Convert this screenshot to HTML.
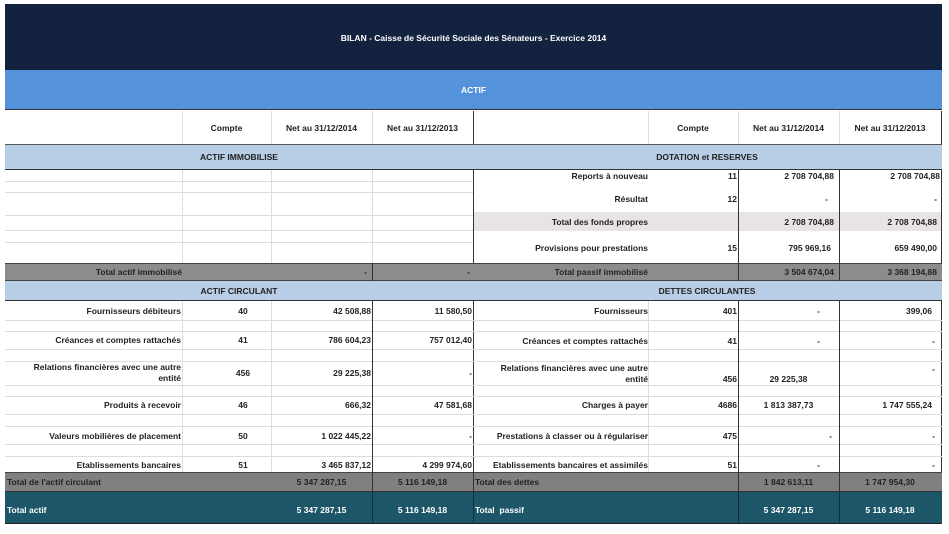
<!DOCTYPE html>
<html><head><meta charset="utf-8"><style>
body{margin:0;width:949px;height:534px;background:#fff;position:relative;overflow:hidden;font-family:"Liberation Sans",Arial,sans-serif;font-size:8.5px;font-weight:bold;color:#222}
div{position:absolute;box-sizing:border-box}
.t{white-space:nowrap;line-height:10px}
.r{text-align:right}.c{text-align:center}
.vl{width:1px;background:#ddd}
.vd{width:1px;background:#333}
.hl{height:1px;background:#ddd}
</style></head><body>
<div style="left:5px;top:4px;width:937px;height:66px;background:#13223f"></div>
<div class="t c" style="left:5px;top:33px;width:937px;color:#fff">BILAN - Caisse de Sécurité Sociale des Sénateurs - Exercice 2014</div>
<div style="left:5px;top:70px;width:937px;height:40px;background:#5592dc;border-bottom:1px solid #333"></div>
<div class="t c" style="left:5px;top:85px;width:937px;color:#fff">ACTIF</div>

<!-- column header row -->
<div class="vl" style="left:182px;top:111px;height:34px"></div>
<div class="vl" style="left:271px;top:111px;height:34px"></div>
<div class="vl" style="left:372px;top:111px;height:34px"></div>
<div class="vd" style="left:473px;top:111px;height:413px"></div>
<div class="vl" style="left:648px;top:111px;height:34px"></div>
<div class="vl" style="left:738px;top:111px;height:34px"></div>
<div class="vl" style="left:839px;top:111px;height:34px"></div>
<div class="vd" style="left:941px;top:111px;height:413px"></div>
<div class="t c" style="left:182px;top:123px;width:89px">Compte</div>
<div class="t c" style="left:271px;top:123px;width:101px">Net au 31/12/2014</div>
<div class="t c" style="left:372px;top:123px;width:101px">Net au 31/12/2013</div>
<div class="t c" style="left:648px;top:123px;width:90px">Compte</div>
<div class="t c" style="left:738px;top:123px;width:101px">Net au 31/12/2014</div>
<div class="t c" style="left:839px;top:123px;width:102px">Net au 31/12/2013</div>

<!-- section headers -->
<div style="left:5px;top:144px;width:937px;height:26px;background:#b8cde6;border-top:1px solid #555;border-bottom:1px solid #333"></div>
<div class="t c" style="left:5px;top:152px;width:468px">ACTIF IMMOBILISE</div>
<div class="t c" style="left:473px;top:152px;width:468px">DOTATION et RESERVES</div>

<!-- left immobilise grid -->
<div class="hl" style="left:5px;top:181px;width:468px"></div>
<div class="hl" style="left:5px;top:192px;width:468px"></div>
<div class="hl" style="left:5px;top:215px;width:468px"></div>
<div class="hl" style="left:5px;top:230px;width:468px"></div>
<div class="hl" style="left:5px;top:242px;width:468px"></div>
<div class="vl" style="left:182px;top:170px;height:93px"></div>
<div class="vl" style="left:271px;top:170px;height:93px"></div>
<div class="vl" style="left:372px;top:170px;height:93px"></div>

<!-- right dotation -->
<div style="left:474px;top:212px;width:467px;height:19px;background:#e8e4e6"></div>
<div class="vd" style="left:738px;top:170px;height:93px"></div>
<div class="vd" style="left:839px;top:170px;height:93px"></div>
<div class="t r" style="left:474px;top:171px;width:174px">Reports à nouveau</div>
<div class="t r" style="left:648px;top:171px;width:89px">11</div>
<div class="t r" style="left:738px;top:171px;width:96px">2 708 704,88</div>
<div class="t r" style="left:839px;top:171px;width:101px">2 708 704,88</div>
<div class="t r" style="left:474px;top:194px;width:174px">Résultat</div>
<div class="t r" style="left:648px;top:194px;width:89px">12</div>
<div class="t r" style="left:738px;top:194px;width:90px">-</div>
<div class="t r" style="left:839px;top:194px;width:98px">-</div>
<div class="t r" style="left:474px;top:217px;width:174px">Total des fonds propres</div>
<div class="t r" style="left:738px;top:217px;width:96px">2 708 704,88</div>
<div class="t r" style="left:839px;top:217px;width:98px">2 708 704,88</div>
<div class="t r" style="left:474px;top:243px;width:174px">Provisions pour prestations</div>
<div class="t r" style="left:648px;top:243px;width:89px">15</div>
<div class="t r" style="left:738px;top:243px;width:93px">795 969,16</div>
<div class="t r" style="left:839px;top:243px;width:98px">659 490,00</div>

<!-- total immobilise row -->
<div style="left:5px;top:263px;width:937px;height:18px;background:#8c8c8c;border-top:1px solid #444;border-bottom:1px solid #444"></div>
<div class="vd" style="left:372px;top:263px;height:18px"></div>
<div class="vd" style="left:738px;top:263px;height:18px"></div>
<div class="vd" style="left:839px;top:263px;height:18px"></div>
<div class="t r" style="left:5px;top:267px;width:177px">Total actif immobilisé</div>
<div class="t r" style="left:271px;top:267px;width:96px">-</div>
<div class="t r" style="left:372px;top:267px;width:98px">-</div>
<div class="t r" style="left:474px;top:267px;width:174px">Total passif immobilisé</div>
<div class="t r" style="left:738px;top:267px;width:96px">3 504 674,04</div>
<div class="t r" style="left:839px;top:267px;width:98px">3 368 194,88</div>

<!-- circulant header -->
<div style="left:5px;top:281px;width:937px;height:20px;background:#b8cde6;border-bottom:1px solid #333"></div>
<div class="t c" style="left:5px;top:286px;width:468px">ACTIF CIRCULANT</div>
<div class="t c" style="left:473px;top:286px;width:468px">DETTES CIRCULANTES</div>

<!-- circulant grid lines -->
<div class="hl" style="left:5px;top:320px;width:937px"></div>
<div class="hl" style="left:5px;top:331px;width:937px"></div>
<div class="hl" style="left:5px;top:349px;width:937px"></div>
<div class="hl" style="left:5px;top:361px;width:937px"></div>
<div class="hl" style="left:5px;top:385px;width:937px"></div>
<div class="hl" style="left:5px;top:396px;width:937px"></div>
<div class="hl" style="left:5px;top:414px;width:937px"></div>
<div class="hl" style="left:5px;top:426px;width:937px"></div>
<div class="hl" style="left:5px;top:444px;width:937px"></div>
<div class="hl" style="left:5px;top:456px;width:937px"></div>
<div class="vl" style="left:182px;top:301px;height:171px"></div>
<div class="vl" style="left:271px;top:301px;height:171px"></div>
<div class="vd" style="left:372px;top:301px;height:223px"></div>
<div class="vl" style="left:648px;top:301px;height:171px"></div>
<div class="vd" style="left:738px;top:301px;height:223px"></div>
<div class="vd" style="left:839px;top:301px;height:223px"></div>

<!-- left circulant -->
<div class="t r" style="left:5px;top:306px;width:176px">Fournisseurs débiteurs</div>
<div class="t c" style="left:218px;top:306px;width:50px">40</div>
<div class="t r" style="left:271px;top:306px;width:100px">42 508,88</div>
<div class="t r" style="left:372px;top:306px;width:100px">11 580,50</div>
<div class="t r" style="left:5px;top:335px;width:176px">Créances et comptes rattachés</div>
<div class="t c" style="left:218px;top:335px;width:50px">41</div>
<div class="t r" style="left:271px;top:335px;width:100px">786 604,23</div>
<div class="t r" style="left:372px;top:335px;width:100px">757 012,40</div>
<div class="t r" style="left:5px;top:362px;width:176px">Relations financières avec une autre</div>
<div class="t r" style="left:5px;top:373px;width:176px">entité</div>
<div class="t c" style="left:218px;top:368px;width:50px">456</div>
<div class="t r" style="left:271px;top:368px;width:100px">29 225,38</div>
<div class="t r" style="left:372px;top:368px;width:100px">-</div>
<div class="t r" style="left:5px;top:400px;width:176px">Produits à recevoir</div>
<div class="t c" style="left:218px;top:400px;width:50px">46</div>
<div class="t r" style="left:271px;top:400px;width:100px">666,32</div>
<div class="t r" style="left:372px;top:400px;width:100px">47 581,68</div>
<div class="t r" style="left:5px;top:431px;width:176px">Valeurs mobilières de placement</div>
<div class="t c" style="left:218px;top:431px;width:50px">50</div>
<div class="t r" style="left:271px;top:431px;width:100px">1 022 445,22</div>
<div class="t r" style="left:372px;top:431px;width:100px">-</div>
<div class="t r" style="left:5px;top:460px;width:176px">Etablissements bancaires</div>
<div class="t c" style="left:218px;top:460px;width:50px">51</div>
<div class="t r" style="left:271px;top:460px;width:100px">3 465 837,12</div>
<div class="t r" style="left:372px;top:460px;width:100px">4 299 974,60</div>

<!-- right circulant -->
<div class="t r" style="left:474px;top:306px;width:174px">Fournisseurs</div>
<div class="t r" style="left:648px;top:306px;width:89px">401</div>
<div class="t r" style="left:738px;top:306px;width:82px">-</div>
<div class="t r" style="left:839px;top:306px;width:93px">399,06</div>
<div class="t r" style="left:474px;top:336px;width:174px">Créances et comptes rattachés</div>
<div class="t r" style="left:648px;top:336px;width:89px">41</div>
<div class="t r" style="left:738px;top:336px;width:82px">-</div>
<div class="t r" style="left:839px;top:336px;width:96px">-</div>
<div class="t r" style="left:474px;top:363px;width:174px">Relations financières avec une autre</div>
<div class="t r" style="left:474px;top:374px;width:174px">entité</div>
<div class="t r" style="left:648px;top:374px;width:89px">456</div>
<div class="t c" style="left:738px;top:374px;width:101px">29 225,38</div>
<div class="t r" style="left:839px;top:364px;width:96px">-</div>
<div class="t r" style="left:474px;top:400px;width:174px">Charges à payer</div>
<div class="t r" style="left:648px;top:400px;width:89px">4686</div>
<div class="t c" style="left:738px;top:400px;width:101px">1 813 387,73</div>
<div class="t r" style="left:839px;top:400px;width:93px">1 747 555,24</div>
<div class="t r" style="left:474px;top:431px;width:174px">Prestations à classer ou à régulariser</div>
<div class="t r" style="left:648px;top:431px;width:89px">475</div>
<div class="t r" style="left:738px;top:431px;width:94px">-</div>
<div class="t r" style="left:839px;top:431px;width:96px">-</div>
<div class="t r" style="left:474px;top:460px;width:174px">Etablissements bancaires et assimilés</div>
<div class="t r" style="left:648px;top:460px;width:89px">51</div>
<div class="t r" style="left:738px;top:460px;width:82px">-</div>
<div class="t r" style="left:839px;top:460px;width:96px">-</div>

<!-- total circulant -->
<div style="left:5px;top:472px;width:937px;height:20px;background:#808080;border-top:1px solid #444;border-bottom:1px solid #333"></div>
<div class="vd" style="left:372px;top:472px;height:52px"></div>
<div class="vd" style="left:473px;top:472px;height:52px"></div>
<div class="vd" style="left:738px;top:472px;height:52px"></div>
<div class="vd" style="left:839px;top:472px;height:52px"></div>
<div class="t" style="left:7px;top:477px">Total de l'actif circulant</div>
<div class="t c" style="left:271px;top:477px;width:101px">5 347 287,15</div>
<div class="t c" style="left:372px;top:477px;width:101px">5 116 149,18</div>
<div class="t" style="left:475px;top:477px">Total des dettes</div>
<div class="t c" style="left:738px;top:477px;width:101px">1 842 613,11</div>
<div class="t c" style="left:839px;top:477px;width:102px">1 747 954,30</div>

<!-- total actif -->
<div style="left:5px;top:492px;width:937px;height:32px;background:#1d5668;border-bottom:1px solid #222"></div>
<div class="vd" style="left:372px;top:492px;height:32px;background:#152f3a"></div>
<div class="vd" style="left:473px;top:492px;height:32px;background:#152f3a"></div>
<div class="vd" style="left:738px;top:492px;height:32px;background:#152f3a"></div>
<div class="vd" style="left:839px;top:492px;height:32px;background:#152f3a"></div>
<div class="t" style="left:7px;top:505px;color:#fff">Total actif</div>
<div class="t c" style="left:271px;top:505px;width:101px;color:#fff">5 347 287,15</div>
<div class="t c" style="left:372px;top:505px;width:101px;color:#fff">5 116 149,18</div>
<div class="t" style="left:475px;top:505px;color:#fff">Total&nbsp; passif</div>
<div class="t c" style="left:738px;top:505px;width:101px;color:#fff">5 347 287,15</div>
<div class="t c" style="left:839px;top:505px;width:102px;color:#fff">5 116 149,18</div>
</body></html>
